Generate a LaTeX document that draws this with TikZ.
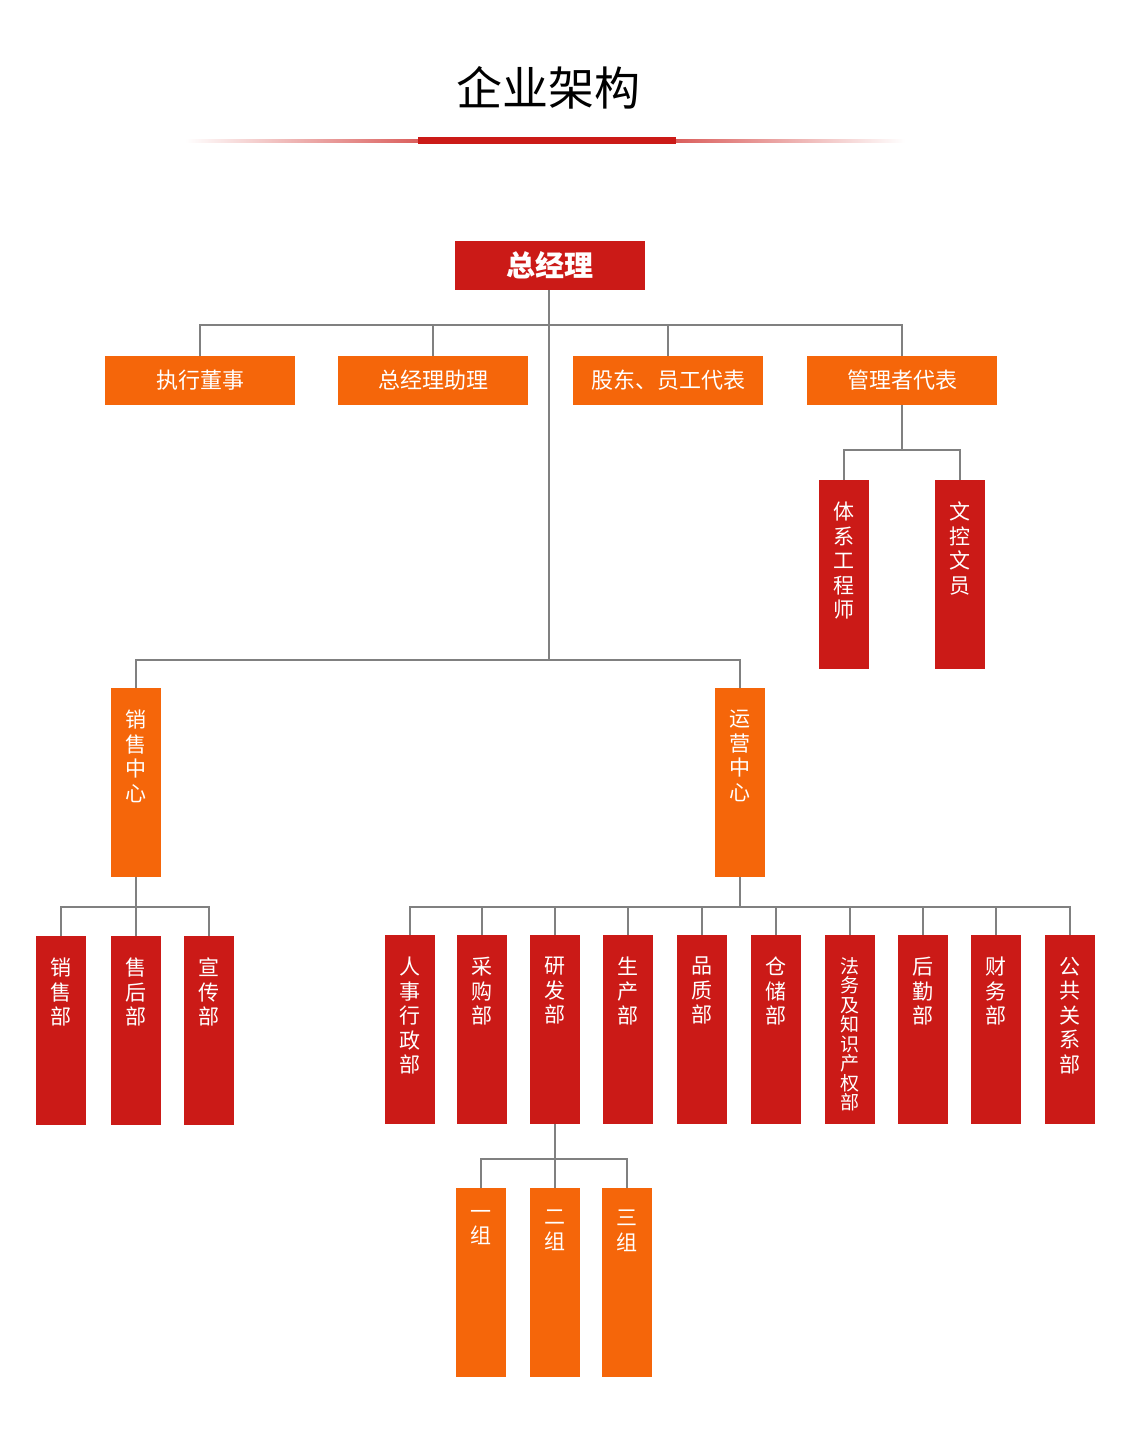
\documentclass[tikz,border=0pt]{standalone}
\usepackage{fontspec}
\setmainfont{Noto Sans CJK SC}
\usetikzlibrary{calc}
\definecolor{corpred}{HTML}{CB1A17}
\definecolor{corporange}{HTML}{F5660A}
\definecolor{wire}{HTML}{808080}
\tikzset{
  hbox/.style={rectangle, minimum width=190pt, minimum height=49pt, inner sep=0pt, text=white, font=\fontsize{22}{24}\selectfont},
  vbox/.style={rectangle, minimum width=50pt, minimum height=189pt, inner sep=0pt},
  vlab/.style={text=white, align=center, inner sep=0pt, font=\fontsize{21}{24.5}\selectfont},
  link/.style={draw=wire, line width=2.6pt}
}
\newcommand{\deptbox}[5]{% name, x, ytop, colour, text
  \node (#1) [vbox, fill=#4, anchor=north] at (#2,#3)
    {}; \node (#1l) [vlab, anchor=north] at ([yshift=-22pt]#1.north) {#5};}

\begin{document}
\begin{tikzpicture}[x=1pt, y=-1pt]
  \useasboundingbox (0,0) rectangle (1132,1430);

  % title
  \node (title) at (548,88) {\fontsize{46}{50}\selectfont 企业架构};
  \shade[left color=white, right color=corpred!70] (185,139) rectangle (418,142);
  \shade[left color=corpred!70, right color=white] (676,139) rectangle (905,142);
  \fill[corpred] (418,137) rectangle (676,144);

  % top
  \node (gm) [hbox, fill=corpred, font=\fontsize{29}{32}\selectfont\bfseries] at (550,265.5) {总经理};
  \node (exe) [hbox, fill=corporange] at (200,380.5) {执行董事};
  \node (asst) [hbox, fill=corporange] at (433,380.5) {总经理助理};
  \node (rep) [hbox, fill=corporange] at (668,380.5) {股东、员工代表};
  \node (mgr) [hbox, fill=corporange] at (902,380.5) {管理者代表};

  \deptbox{eng}{844}{480}{corpred}{体\\系\\工\\程\\师}
  \deptbox{doc}{960}{480}{corpred}{文\\控\\文\\员}

  % centres
  \deptbox{sales}{136}{688}{corporange}{销\\售\\中\\心}
  \deptbox{ops}{740}{688}{corporange}{运\\营\\中\\心}

  \deptbox{s1}{61}{936}{corpred}{销\\售\\部}
  \deptbox{s2}{136}{936}{corpred}{售\\后\\部}
  \deptbox{s3}{209}{936}{corpred}{宣\\传\\部}

  \deptbox{o1}{410}{935}{corpred}{人\\事\\行\\政\\部}
  \deptbox{o2}{482}{935}{corpred}{采\\购\\部}
  \deptbox{o3}{555}{935}{corpred}{研\\发\\部}
  \deptbox{o4}{628}{935}{corpred}{生\\产\\部}
  \deptbox{o5}{702}{935}{corpred}{品\\质\\部}
  \deptbox{o6}{776}{935}{corpred}{仓\\储\\部}
  \node (o7) [vbox, fill=corpred, anchor=north] at (850,935) {};
  \node (o7l) [vlab, anchor=north, font=\fontsize{19}{19.5}\selectfont] at ([yshift=-22pt]o7.north) {法\\务\\及\\知\\识\\产\\权\\部};
  \deptbox{o8}{923}{935}{corpred}{后\\勤\\部}
  \deptbox{o9}{996}{935}{corpred}{财\\务\\部}
  \deptbox{o10}{1070}{935}{corpred}{公\\共\\关\\系\\部}

  \deptbox{g1}{481}{1188}{corporange}{一\\组}
  \deptbox{g2}{555}{1188}{corporange}{二\\组}
  \deptbox{g3}{627}{1188}{corporange}{三\\组}

  % junctions
  \coordinate (j1) at (549,325);
  \coordinate (j2) at (549,660);
  \coordinate (j3) at (902,450);
  \coordinate (j4) at (136,907);
  \coordinate (j5) at (740,907);
  \coordinate (j6) at (555,1159);

  \draw[link] (gm.south -| j1) -- (j2);
  \foreach \n in {exe,asst,rep,mgr} \draw[link] (j1) -| (\n.north);
  \draw[link] (mgr.south) -- (j3);
  \foreach \n in {eng,doc} \draw[link] (j3) -| (\n.north);
  \foreach \n in {sales,ops} \draw[link] (j2) -| (\n.north);
  \draw[link] (sales.south) -- (j4);
  \foreach \n in {s1,s2,s3} \draw[link] (j4) -| (\n.north);
  \draw[link] (ops.south) -- (j5);
  \foreach \n in {o1,o2,o3,o4,o5,o6,o7,o8,o9,o10} \draw[link] (j5) -| (\n.north);
  \draw[link] (o3.south) -- (j6);
  \foreach \n in {g1,g2,g3} \draw[link] (j6) -| (\n.north);
\end{tikzpicture}
\end{document}
